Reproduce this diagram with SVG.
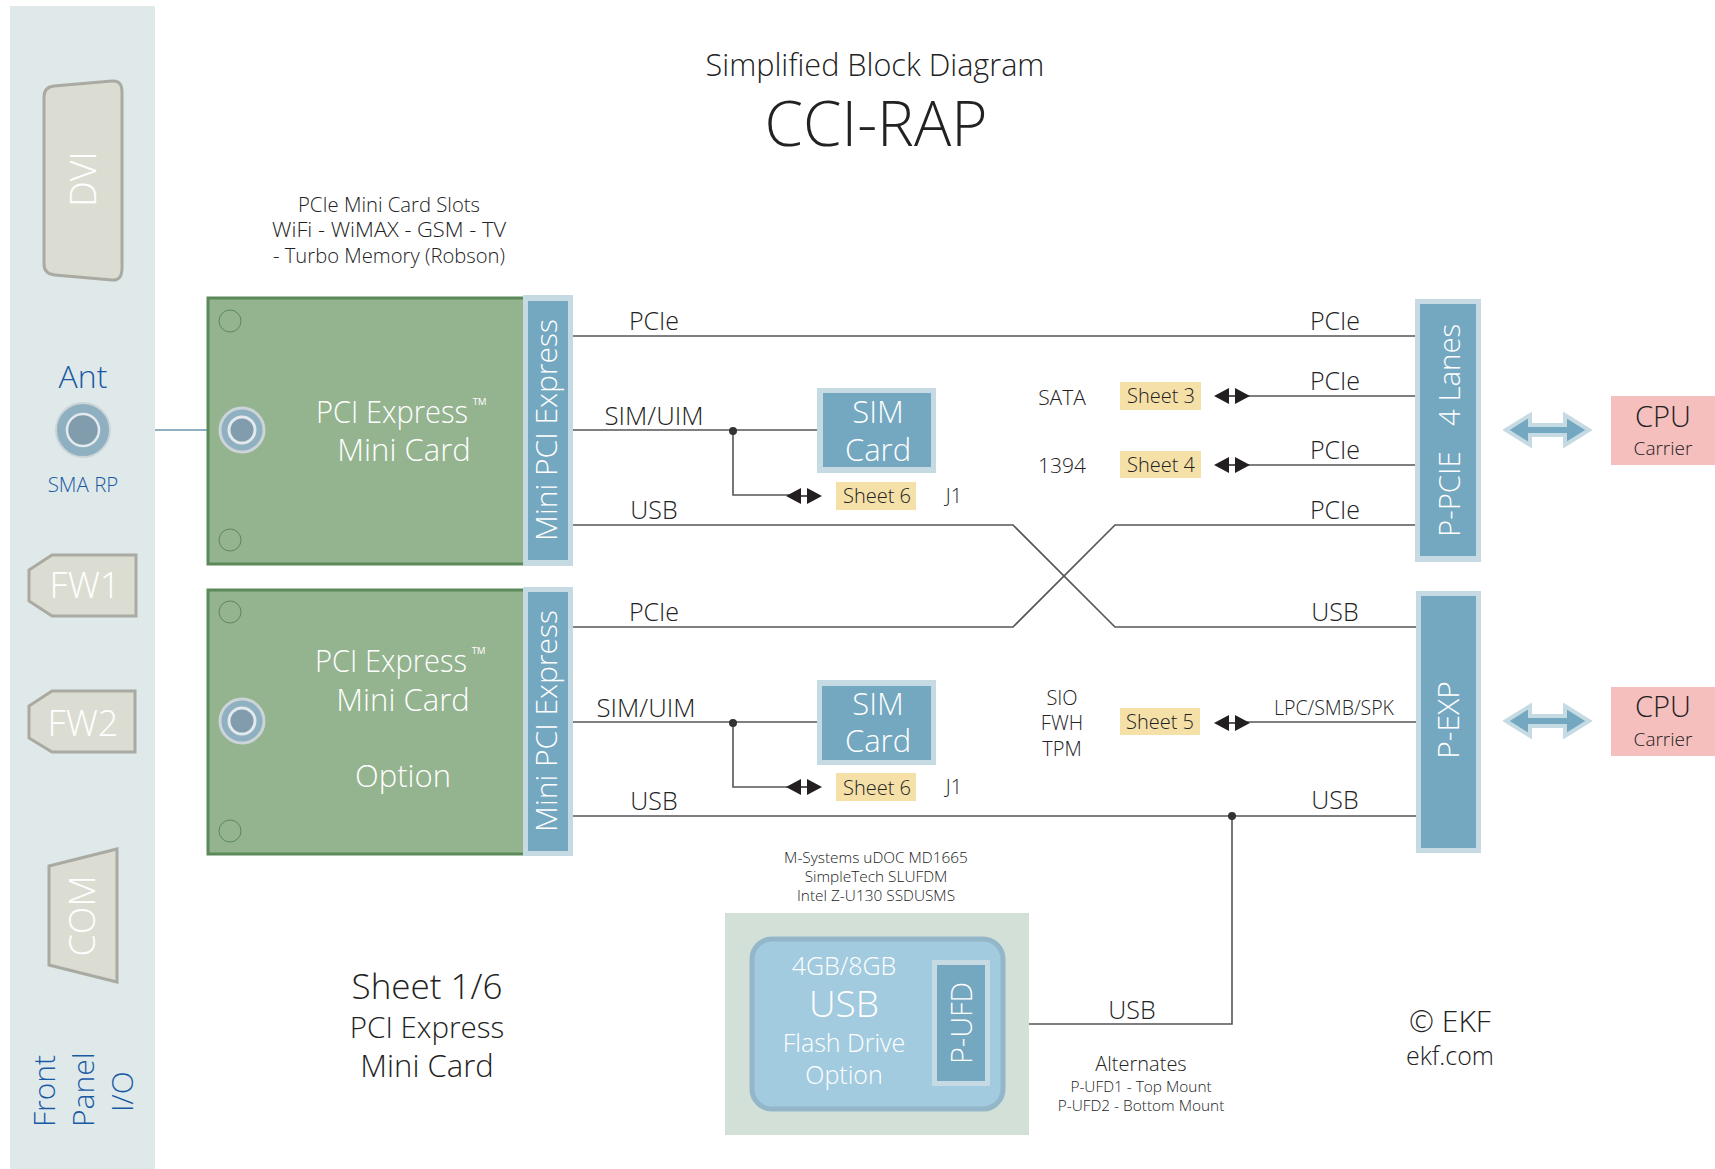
<svg xmlns="http://www.w3.org/2000/svg" xmlns:xlink="http://www.w3.org/1999/xlink" width="1715" height="1169" viewBox="0 0 1715 1169">
<style>
text{font-family:"Open Sans","Noto Sans","Liberation Sans",sans-serif;font-weight:300;text-anchor:middle;fill:#222}
.w{fill:#fff}
.b{fill:#1a5aa5}
.l{fill:none;stroke:#555;stroke-width:1.6}
.fp{fill:#dcddd2;stroke:#a9aaa2;stroke-width:3}
.card{fill:#94b38f;stroke:#5b8a58;stroke-width:3}
.hole{fill:none;stroke:#5b8a58;stroke-width:1}
.po{fill:#c6dae3}
.pi{fill:#74a7c0}
.sh{fill:#f5e0a8}
.cpu{fill:#f5bfbd}
.s20{font-size:20px}.s22{font-size:21px}.s26{font-size:25px}.s32{font-size:31px}.s29{font-size:29px}.s36{font-size:36px}
.st{text-anchor:start}
</style>
<defs>
<g id="dbl"><path d="M0 0L15 -8V8Z" fill="#231f20"/><path d="M21 -8L36 0L21 8Z" fill="#231f20"/><path d="M15 0H21" stroke="#231f20" stroke-width="1.5"/></g>
<g id="big"><path d="M2 0L26 -15V-5H61V-15L85 0L61 15V5H26V15Z" fill="#74a7c0" stroke="#c6dae3" stroke-width="4"/></g>
<g id="sma"><circle r="22" fill="#8fb0c1" stroke="#ccd4d8" stroke-width="3"/><circle r="13" fill="#819cac" stroke="#e3e9ec" stroke-width="3"/></g>
</defs>
<rect width="1715" height="1169" fill="#fff"/>
<g id="panel">
<rect x="10" y="6" width="145" height="1163" fill="#dfe9ea"/>
<text class="b st" font-size="30" transform="rotate(-90 55 1127)" x="55" y="1127">Front</text>
<text class="b st" font-size="30" transform="rotate(-90 94 1127)" x="94" y="1127">Panel</text>
<text class="b st" font-size="30" transform="rotate(-90 133 1112)" x="133" y="1112">I/O</text>
</g>
<g id="dvi"><path class="fp" d="M44 97Q44 87 54 86L112 81Q122 80 122 92V268Q122 281 112 280L55 275Q44 274 44 264Z"/><text class="w s36" transform="rotate(-90 96 179)" x="96" y="179">DVI</text></g>
<g id="ant"><text class="b" x="83" y="388" font-size="32">Ant</text><g transform="translate(83 430)"><circle r="27" fill="#8fb0c1" stroke="#ccd4d8" stroke-width="2"/><circle r="16" fill="#819cac" stroke="#e3e9ec" stroke-width="2.5"/></g><text class="b" x="83" y="492" font-size="20.5">SMA RP</text></g>
<g id="fw1"><path class="fp" d="M52 555H136V616H52L29 601V570Z"/><text class="w s36" x="85" y="598">FW1</text></g>
<g id="fw2"><path class="fp" d="M52 691H135V752H52L29 738V706Z"/><text class="w s36" x="83" y="736">FW2</text></g>
<g id="com"><path class="fp" d="M49 866L117 849V982L49 965Z"/><text class="w s36" transform="rotate(-90 95 916)" x="95" y="916">COM</text></g>
<g id="title"><text x="875" y="76" font-size="30.6">Simplified Block Diagram</text><text x="876" y="146" font-size="62">CCI-RAP</text></g>
<g id="slots-label"><text class="s20" x="389" y="212" textLength="182" lengthAdjust="spacingAndGlyphs">PCIe Mini Card Slots</text><text class="s20" x="389" y="237" textLength="234" lengthAdjust="spacingAndGlyphs">WiFi - WiMAX - GSM - TV</text><text class="s20" x="389" y="263" textLength="232" lengthAdjust="spacingAndGlyphs">- Turbo Memory (Robson)</text></g>
<g id="connectors">
<path class="l" d="M155 430H221" style="stroke:#8fb0c1;stroke-width:2"/>
<path class="l" d="M573 336H1416"/>
<path class="l" d="M573 430H818M733 431V495H790"/>
<path class="l" d="M573 525H1013L1115 627H1416"/>
<path class="l" d="M573 627H1013L1115 525H1416"/>
<path class="l" d="M1240 396H1416M1240 465H1416M1240 722H1416"/>
<path class="l" d="M573 722H818M733 723V787H790"/>
<path class="l" d="M573 816H1416M1232 816V1024H1029"/>
<circle cx="733" cy="431" r="4" fill="#333"/><circle cx="733" cy="723" r="4" fill="#333"/><circle cx="1232" cy="816" r="4" fill="#333"/>
<use xlink:href="#dbl" href="#dbl" x="786" y="496"/><use xlink:href="#dbl" href="#dbl" x="786" y="787"/>
<use xlink:href="#dbl" href="#dbl" x="1214" y="396"/><use xlink:href="#dbl" href="#dbl" x="1214" y="465"/><use xlink:href="#dbl" href="#dbl" x="1214" y="723"/>
<use xlink:href="#big" href="#big" x="1504" y="430"/><use xlink:href="#big" href="#big" x="1504" y="721"/>
</g>
<g id="card1"><rect class="card" x="208" y="298" width="320" height="266"/><circle class="hole" cx="230" cy="321" r="11"/><circle class="hole" cx="230" cy="540" r="11"/><use xlink:href="#sma" href="#sma" x="242" y="430"/>
<text class="w s32" x="392" y="423" textLength="152" lengthAdjust="spacingAndGlyphs">PCI Express</text><text class="w" x="480" y="412" font-size="20">™</text><text class="w s32" x="404" y="461">Mini Card</text></g>
<g id="conn1"><rect class="po" x="523" y="295" width="50" height="271"/><rect class="pi" x="528" y="301" width="40" height="259"/><text class="w" font-size="30" transform="rotate(-90 557 430)" x="557" y="430">Mini PCI Express</text></g>
<g id="card2"><rect class="card" x="208" y="590" width="320" height="264"/><circle class="hole" cx="230" cy="612" r="11"/><circle class="hole" cx="230" cy="831" r="11"/><use xlink:href="#sma" href="#sma" x="242" y="721"/>
<text class="w s32" x="391" y="672" textLength="152" lengthAdjust="spacingAndGlyphs">PCI Express</text><text class="w" x="479" y="661" font-size="20">™</text><text class="w s32" x="403" y="711">Mini Card</text><text class="w s32" x="403" y="787">Option</text></g>
<g id="conn2"><rect class="po" x="523" y="587" width="50" height="269"/><rect class="pi" x="528" y="592" width="40" height="259"/><text class="w" font-size="30" transform="rotate(-90 557 721)" x="557" y="721">Mini PCI Express</text></g>
<g id="sim1"><rect class="po" x="817" y="388" width="119" height="85"/><rect class="pi" x="823" y="393" width="108" height="74"/><text class="w s32" x="878" y="423">SIM</text><text class="w s32" x="878" y="461">Card</text></g>
<g id="sim2"><rect class="po" x="817" y="680" width="119" height="85"/><rect class="pi" x="822" y="686" width="109" height="74"/><text class="w s32" x="878" y="715">SIM</text><text class="w s32" x="878" y="752">Card</text></g>
<g id="sheet6a"><rect class="sh" x="836" y="482" width="80" height="28"/><text class="s20" x="877" y="503">Sheet 6</text><text class="s20" x="954" y="503">J1</text></g>
<g id="sheet6b"><rect class="sh" x="836" y="773" width="80" height="28"/><text class="s20" x="877" y="795">Sheet 6</text><text class="s20" x="954" y="794">J1</text></g>
<g id="sheet3"><rect class="sh" x="1120" y="382" width="81" height="28"/><text class="s20" x="1161" y="403">Sheet 3</text><text class="s22" x="1062" y="405">SATA</text></g>
<g id="sheet4"><rect class="sh" x="1120" y="451" width="81" height="27"/><text class="s20" x="1161" y="472">Sheet 4</text><text class="s22" x="1062" y="473">1394</text></g>
<g id="sheet5"><rect class="sh" x="1120" y="708" width="80" height="27"/><text class="s20" x="1160" y="729">Sheet 5</text><text class="s20" x="1062" y="705">SIO</text><text class="s20" x="1062" y="730">FWH</text><text class="s20" x="1062" y="756">TPM</text></g>
<g id="pcie"><rect class="po" x="1415" y="299" width="66" height="263"/><rect class="pi" x="1420" y="304" width="56" height="252"/><text class="w st" font-size="29.4" transform="rotate(-90 1460 537)" x="1460" y="537">P-PCIE</text><text class="w st" font-size="29.4" transform="rotate(-90 1460 426)" x="1460" y="426">4 Lanes</text></g>
<g id="pexp"><rect class="po" x="1416" y="591" width="65" height="262"/><rect class="pi" x="1421" y="596" width="55" height="252"/><text class="w" font-size="30" transform="rotate(-90 1459 720)" x="1459" y="720">P-EXP</text></g>
<g id="cpu1"><rect class="cpu" x="1611" y="396" width="104" height="69"/><text class="s29" x="1663" y="427">CPU</text><text x="1663" y="455" style="font-size:19px">Carrier</text></g>
<g id="cpu2"><rect class="cpu" x="1611" y="687" width="104" height="69"/><text class="s29" x="1663" y="717">CPU</text><text x="1663" y="746" style="font-size:19px">Carrier</text></g>
<g id="labels">
<text class="s26" x="654" y="330">PCIe</text><text class="s26" x="654" y="425" textLength="99" lengthAdjust="spacingAndGlyphs">SIM/UIM</text><text class="s26" x="654" y="519">USB</text>
<text class="s26" x="654" y="621">PCIe</text><text class="s26" x="646" y="717" textLength="99" lengthAdjust="spacingAndGlyphs">SIM/UIM</text><text class="s26" x="654" y="810">USB</text>
<text class="s26" x="1335" y="330">PCIe</text><text class="s26" x="1335" y="390">PCIe</text><text class="s26" x="1335" y="459">PCIe</text><text class="s26" x="1335" y="519">PCIe</text>
<text class="s26" x="1335" y="621">USB</text><text x="1334" y="715" style="font-size:19.5px">LPC/SMB/SPK</text><text class="s26" x="1335" y="809">USB</text><text class="s26" x="1132" y="1019">USB</text>
</g>
<g id="flash"><rect x="725" y="913" width="304" height="222" fill="#d3e0d8"/><rect x="752" y="939" width="251" height="170" rx="20" fill="#a3cbdf" stroke="#93b6c9" stroke-width="5"/><rect class="po" x="932" y="960" width="58" height="126"/><rect class="pi" x="937" y="965" width="48" height="116"/>
<text class="w s26" x="844" y="975">4GB/8GB</text><text class="w" x="844" y="1017" font-size="37">USB</text><text class="w s26" x="844" y="1052">Flash Drive</text><text class="w s26" x="844" y="1084">Option</text><text class="w s29" transform="rotate(-90 972 1023)" x="972" y="1023">P-UFD</text></g>
<g id="notes">
<text font-size="15.4" x="876" y="863">M-Systems uDOC MD1665</text><text font-size="15.4" x="876" y="882">SimpleTech SLUFDM</text><text font-size="15.4" x="876" y="901">Intel Z-U130 SSDUSMS</text>
<text class="s20" x="1141" y="1071">Alternates</text><text font-size="15.4" x="1141" y="1092">P-UFD1 - Top Mount</text><text font-size="15.4" x="1141" y="1111">P-UFD2 - Bottom Mount</text>
<text font-size="35" x="427" y="999">Sheet 1/6</text><text font-size="29.5" x="427" y="1038">PCI Express</text><text font-size="31" x="427" y="1077">Mini Card</text>
<text font-size="30" x="1450" y="1032">© EKF</text><text font-size="25" x="1450" y="1065">ekf.com</text>
</g>
</svg>
